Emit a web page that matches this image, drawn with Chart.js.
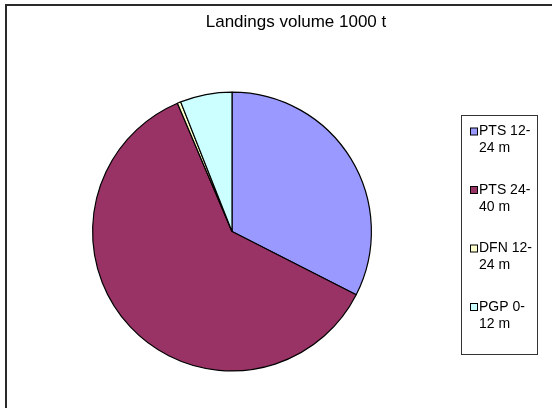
<!DOCTYPE html>
<html>
<head>
<meta charset="utf-8">
<script src="https://cdn.jsdelivr.net/npm/chart.js@4/dist/chart.umd.min.js"></script>
<style>
  html, body { margin: 0; padding: 0; background: #fff; }
  #wrap { width: 552px; height: 408px; }
</style>
</head>
<body>
<div id="wrap"><canvas id="c" width="552" height="408"></canvas></div>
<script>
// Landings volume by fleet segment (1000 t)
const categories = ['PTS 12-24 m', 'PTS 24-40 m', 'DFN 12-24 m', 'PGP 0-12 m'];
const legendLines = [['PTS 12-', '24 m'], ['PTS 24-', '40 m'], ['DFN 12-', '24 m'], ['PGP 0-', '12 m']];
const volumes = [32.5, 61.1, 0.4, 6.0];
const chartTitle = 'Landings volume 1000 t';

const sliceColors = ['#9999FF', '#993366', '#FFFFCC', '#CCFFFF'];
const FONT = '"Liberation Sans", Arial, sans-serif';

// Frame, title and boxed legend drawn around the pie
const decorations = {
  id: 'decorations',
  beforeDraw(chart) {
    const ctx = chart.ctx;
    ctx.save();
    ctx.fillStyle = '#fff';
    ctx.fillRect(0, 0, chart.width, chart.height);
    ctx.strokeStyle = '#2a2a2a';
    ctx.lineWidth = 2;
    ctx.beginPath();
    ctx.moveTo(6, 420);
    ctx.lineTo(6, 5);
    ctx.lineTo(560, 5);
    ctx.stroke();
    ctx.restore();
  },
  afterDraw(chart) {
    const ctx = chart.ctx;
    ctx.save();
    // title
    ctx.fillStyle = '#000';
    ctx.font = '17px ' + FONT;
    ctx.textAlign = 'center';
    ctx.textBaseline = 'middle';
    ctx.fillText(chartTitle, 296, 22);

    // legend box
    ctx.strokeStyle = '#333';
    ctx.lineWidth = 1;
    ctx.strokeRect(461.5, 115.5, 76, 239);

    const labels = chart.data.labels;
    const colors = chart.data.datasets[0].backgroundColor;
    ctx.font = '14px ' + FONT;
    ctx.textAlign = 'left';
    labels.forEach((lab, i) => {
      const y = 131.5 + i * 58.5;
      ctx.fillStyle = colors[i];
      ctx.fillRect(470.5, y - 3.5, 7, 7);
      ctx.strokeStyle = '#000';
      ctx.strokeRect(470.5, y - 3.5, 7, 7);
      ctx.fillStyle = '#000';
      legendLines[i].forEach((t, j) => ctx.fillText(t, 479, y + j * 17));
    });
    ctx.restore();
  }
};

new Chart(document.getElementById('c'), {
  type: 'pie',
  data: {
    labels: categories,
    datasets: [{
      data: volumes,
      backgroundColor: sliceColors,
      borderColor: '#000',
      borderWidth: 1.2,
      hoverOffset: 0,
      offset: 0
    }]
  },
  options: {
    responsive: false,
    animation: false,
    devicePixelRatio: 1,
    layout: { padding: { left: 92, right: 180, top: 91, bottom: 36 } },
    plugins: {
      legend: { display: false },
      title: { display: false },
      tooltip: { enabled: false }
    }
  },
  plugins: [decorations]
});
</script>
</body>
</html>
